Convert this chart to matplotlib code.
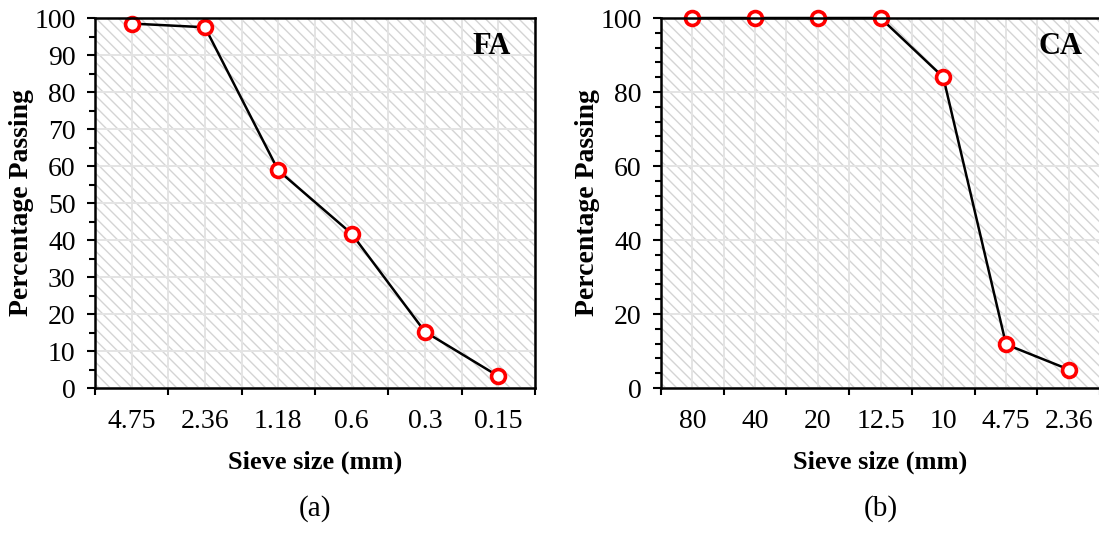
import matplotlib.pyplot as plt
import matplotlib as mpl
from matplotlib.patches import Rectangle
from matplotlib.ticker import MultipleLocator

mpl.rcParams['font.family'] = 'serif'
mpl.rcParams['font.serif'] = ['Liberation Serif', 'DejaVu Serif']
mpl.rcParams['hatch.linewidth'] = 1.0

# fine aggregate
fa_sieve = ['4.75', '2.36', '1.18', '0.6', '0.3', '0.15']
fa_pass = [98.5, 97.5, 58.8, 41.7, 15.2, 3.2]

# coarse aggregate
ca_sieve = ['80', '40', '20', '12.5', '10', '4.75', '2.36']
ca_pass = [100, 100, 100, 100, 84.0, 11.8, 5.0]

fig = plt.figure(figsize=(10.99, 5.51), dpi=100)
ax1 = fig.add_axes([0.0864, 0.2958, 0.4004, 0.6715])
ax2 = fig.add_axes([0.6015, 0.2958, 0.3995, 0.6715])


def draw(ax, sieve, vals, ymajor, yminor, tag, tagx, sub):
    n = len(sieve)
    x = list(range(n))
    ax.set_xlim(-0.5, n - 0.5)
    ax.set_ylim(0, 100)
    # diagonal hatched background
    ax.add_patch(Rectangle((0, 0), 1, 1, transform=ax.transAxes, facecolor='white',
                           edgecolor='#d4d4d4', hatch='\\\\\\', lw=0, zorder=0))
    for gx in [i * 0.5 - 0.5 for i in range(2 * n + 1)]:
        ax.axvline(gx, color='#e4e4e4', lw=1.4, zorder=1)
    for gy in range(0, 101, ymajor):
        ax.axhline(gy, color='#e4e4e4', lw=1.4, zorder=1)
    ax.plot(x, vals, color='black', lw=1.8, marker='o', ms=10, mfc='white',
            mec='red', mew=2.6, zorder=5, clip_on=False)

    ax.set_xticks([i - 0.5 for i in range(n + 1)])
    ax.set_xticklabels([])
    ax.set_xticks(x, minor=True)
    ax.set_xticklabels(sieve, minor=True, fontsize=20)
    ax.tick_params(axis='x', which='major', direction='out', length=5, width=1.5)
    ax.tick_params(axis='x', which='minor', length=0, pad=15)

    ax.yaxis.set_major_locator(MultipleLocator(ymajor))
    ax.yaxis.set_minor_locator(MultipleLocator(yminor))
    ax.tick_params(axis='y', which='major', direction='out', length=6, width=1.5,
                   labelsize=20, pad=8)
    ax.tick_params(axis='y', which='minor', direction='out', length=4.5, width=1.5)

    for s in ax.spines.values():
        s.set_linewidth(1.8)
        s.set_zorder(6)

    ax.set_xlabel('Sieve size (mm)', fontsize=19, fontweight='bold', labelpad=12)
    ax.set_ylabel('Percentage Passing', fontsize=20, fontweight='bold', labelpad=0)
    ax.text(tagx, 0.962, tag, transform=ax.transAxes, ha='right', va='top',
            fontsize=22, fontweight='bold', zorder=7)
    ax.text(0.5, -0.325, sub, transform=ax.transAxes, ha='center', va='center', fontsize=21)


draw(ax1, fa_sieve, fa_pass, 10, 5, 'FA', 0.945, '(a)')
draw(ax2, ca_sieve, ca_pass, 20, 4, 'CA', 0.961, '(b)')

fig.savefig('out.png', dpi=100)
